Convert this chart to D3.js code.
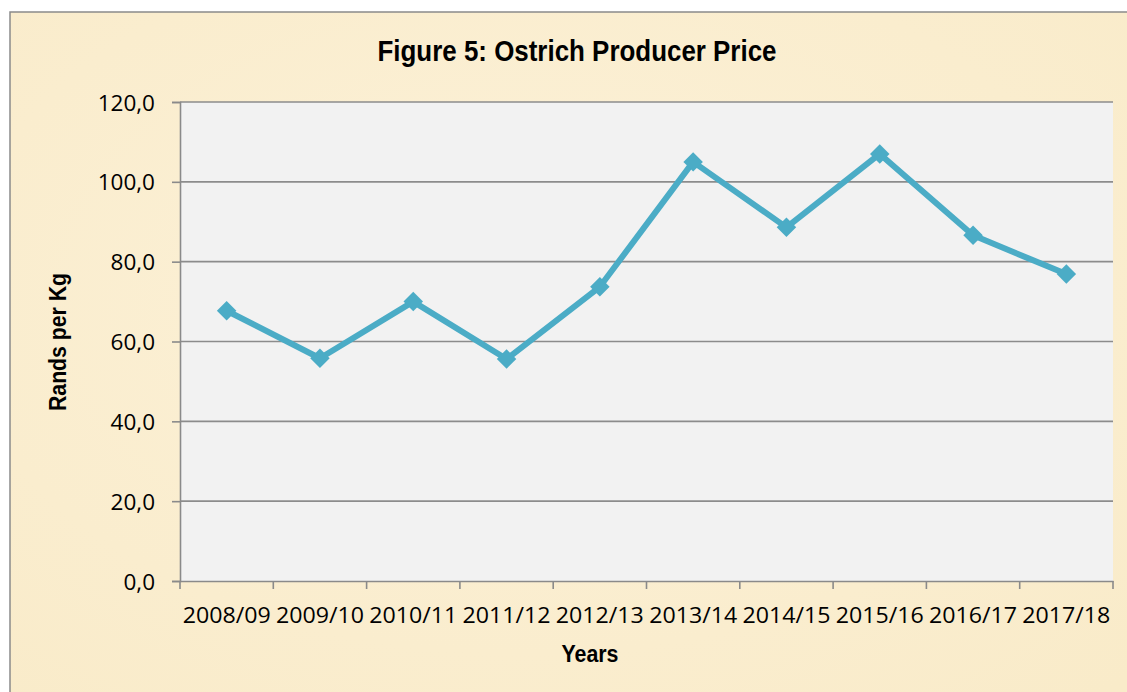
<!DOCTYPE html>
<html>
<head>
<meta charset="utf-8">
<script src="https://cdn.jsdelivr.net/npm/d3@7"></script>
<style>
  html, body { margin: 0; padding: 0; background: #ffffff; }
  svg { display: block; }
</style>
</head>
<body>
<svg id="chart" width="1127" height="692"></svg>
<script>
// ---- data ----
const categories = ["2008/09","2009/10","2010/11","2011/12","2012/13","2013/14","2014/15","2015/16","2016/17","2017/18"];
const prices = [67.7, 55.8, 70.0, 55.6, 73.7, 105.0, 88.6, 107.0, 86.6, 76.9];
const yTicks = [0, 20, 40, 60, 80, 100, 120];
const titleText = "Figure 5: Ostrich Producer Price";
const xTitle = "Years";
const yTitle = "Rands per Kg";

// ---- layout ----
const W = 1127, H = 692;
const plot = { left: 180, right: 1113, top: 102, bottom: 581 };
const lineColor = "#4BACC6";

const svg = d3.select("#chart");
const defs = svg.append("defs");

// parchment-like background
const rg = defs.append("radialGradient").attr("id", "parch").attr("cx", "45%").attr("cy", "40%").attr("r", "75%");
rg.append("stop").attr("offset", "0%").attr("stop-color", "#FCF1D8");
rg.append("stop").attr("offset", "100%").attr("stop-color", "#F9EBC9");

svg.append("rect").attr("x", 0).attr("y", 0).attr("width", W).attr("height", H).attr("fill", "#ffffff");
svg.append("rect")
  .attr("x", 10).attr("y", 12).attr("width", W + 20).attr("height", H + 20)
  .attr("fill", "url(#parch)")
  .attr("stroke", "#8a8a8a").attr("stroke-width", 1.5);

// scales
const x = d3.scaleBand().domain(categories).range([plot.left, plot.right]).padding(0);
const y = d3.scaleLinear().domain([0, 120]).range([plot.bottom, plot.top]);

// plot area
svg.append("rect")
  .attr("x", plot.left).attr("y", plot.top)
  .attr("width", plot.right - plot.left).attr("height", plot.bottom - plot.top)
  .attr("fill", "#F2F2F2");

// gridlines
svg.append("g").selectAll("line").data(yTicks.filter(d => d > 0)).join("line")
  .attr("x1", plot.left).attr("x2", plot.right)
  .attr("y1", d => y(d)).attr("y2", d => y(d))
  .attr("stroke", "#8c8c8c").attr("stroke-width", 1.6);

const fmt = v => d3.format(".1f")(v).replace(".", ",");

// y axis
const yAxis = svg.append("g").attr("transform", `translate(${plot.left},0)`)
  .call(d3.axisLeft(y).tickValues(yTicks).tickFormat(fmt).tickSize(8).tickPadding(17));
yAxis.select(".domain").attr("stroke", "#8a8a8a").attr("stroke-width", 1.6);
yAxis.selectAll(".tick line").attr("stroke", "#8a8a8a").attr("stroke-width", 1.6);
yAxis.selectAll(".tick text")
  .attr("font-family", "'Open Sans', 'Noto Sans', sans-serif")
  .attr("font-size", 22.5).attr("fill", "#000").attr("dy", "0.36em");

// x axis
const xAxis = svg.append("g").attr("transform", `translate(0,${plot.bottom})`)
  .call(d3.axisBottom(x).tickSize(0).tickPadding(26));
xAxis.select(".domain").attr("stroke", "#8a8a8a").attr("stroke-width", 1.6);
xAxis.selectAll(".tick text")
  .attr("font-family", "'Open Sans', 'Noto Sans', sans-serif")
  .attr("font-size", 22.5).attr("fill", "#000")
  .attr("textLength", 88).attr("lengthAdjust", "spacingAndGlyphs");
// boundary tick marks between categories
const bounds = categories.map(c => x(c)).concat([x(categories[categories.length - 1]) + x.bandwidth()]);
xAxis.append("g").selectAll("line").data(bounds).join("line")
  .attr("x1", d => d).attr("x2", d => d).attr("y1", 0).attr("y2", 8)
  .attr("stroke", "#8a8a8a").attr("stroke-width", 1.6);

// line
const cx = (d, i) => x(categories[i]) + x.bandwidth() / 2;
const line = d3.line().x((d, i) => cx(d, i)).y(d => y(d));
svg.append("path").datum(prices)
  .attr("d", line).attr("fill", "none")
  .attr("stroke", lineColor).attr("stroke-width", 6).attr("stroke-linejoin", "round");

// markers (diamonds)
const sym = d3.symbol().type(d3.symbolSquare).size(190);
svg.append("g").selectAll("path").data(prices).join("path")
  .attr("d", sym)
  .attr("transform", (d, i) => `translate(${cx(d, i)},${y(d)}) rotate(45)`)
  .attr("fill", lineColor);

// title
svg.append("text")
  .attr("x", 577).attr("y", 61).attr("text-anchor", "middle")
  .attr("font-family", "'Liberation Sans', Arial, sans-serif")
  .attr("font-weight", "bold").attr("font-size", 29).attr("fill", "#000")
  .attr("textLength", 399).attr("lengthAdjust", "spacingAndGlyphs")
  .text(titleText);

// x title
svg.append("text")
  .attr("x", 590).attr("y", 662).attr("text-anchor", "middle")
  .attr("font-family", "'Liberation Sans', Arial, sans-serif")
  .attr("font-weight", "bold").attr("font-size", 23).attr("fill", "#000")
  .attr("textLength", 57).attr("lengthAdjust", "spacingAndGlyphs")
  .text(xTitle);

// y title
svg.append("text")
  .attr("transform", "translate(66,342) rotate(-90)")
  .attr("text-anchor", "middle")
  .attr("font-family", "'Liberation Sans', Arial, sans-serif")
  .attr("font-weight", "bold").attr("font-size", 24).attr("fill", "#000")
  .attr("textLength", 138).attr("lengthAdjust", "spacingAndGlyphs")
  .text(yTitle);
</script>
</body>
</html>
